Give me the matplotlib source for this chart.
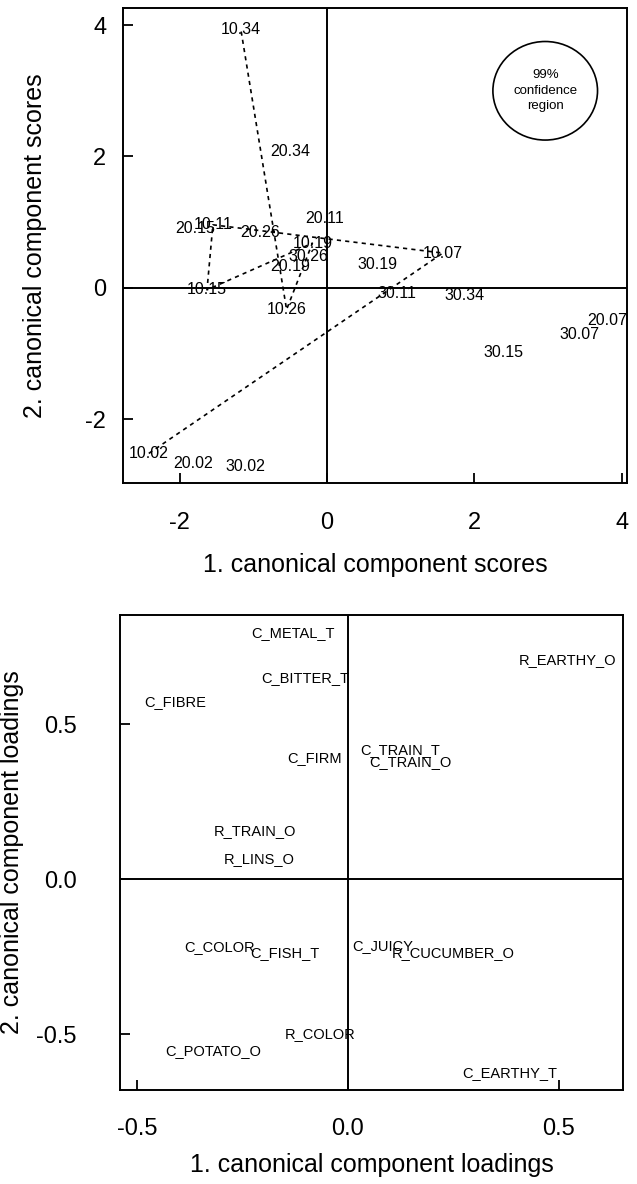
import matplotlib
matplotlib.use("Agg")
import matplotlib.pyplot as plt
from matplotlib.patches import Ellipse

plt.rcParams['font.family'] = ['Liberation Sans', 'DejaVu Sans']

# ---- top panel: canonical component scores ----
score_labels = ["10.02", "10.07", "10.11", "10.15", "10.19", "10.26", "10.34",
                "20.02", "20.07", "20.11", "20.15", "20.19", "20.26", "20.34",
                "30.02", "30.07", "30.11", "30.15", "30.19", "30.26", "30.34"]
score_x = [-2.42, 1.57, -1.55, -1.63, -0.20, -0.55, -1.17,
           -1.82, 3.80, -0.03, -1.79, -0.50, -0.91, -0.50,
           -1.11, 3.43, 0.95, 2.39, 0.69, -0.26, 1.87]
score_y = [-2.52, 0.53, 0.96, -0.03, 0.68, -0.33, 3.93,
           -2.68, -0.49, 1.06, 0.91, 0.32, 0.85, 2.08,
           -2.72, -0.71, -0.09, -0.99, 0.35, 0.47, -0.12]
path_labels = ["10.02", "10.07", "10.11", "10.15", "10.19", "10.26", "10.34"]
score_xticks = [-2, 0, 2, 4]
score_yticks = [-2, 0, 2, 4]

# ---- bottom panel: canonical component loadings ----
load_labels = ["C_METAL_T", "C_BITTER_T", "C_FIBRE", "C_FIRM", "R_TRAIN_O",
               "R_LINS_O", "R_EARTHY_O", "C_TRAIN_T", "C_TRAIN_O", "C_COLOR",
               "C_FISH_T", "R_COLOR", "C_POTATO_O", "C_JUICY", "R_CUCUMBER_O",
               "C_EARTHY_T"]
load_x = [-0.13, -0.10, -0.41, -0.08, -0.22, -0.21, 0.52, 0.123, 0.147, -0.303,
          -0.149, -0.066, -0.318, 0.083, 0.249, 0.384]
load_y = [0.794, 0.648, 0.571, 0.39, 0.155, 0.065, 0.706, 0.416, 0.377, -0.219,
          -0.239, -0.50, -0.555, -0.216, -0.239, -0.626]
load_xticks = [-0.5, 0.0, 0.5]
load_yticks = [-0.5, 0.0, 0.5]

W, H = 637, 1184
fig = plt.figure(figsize=(W / 100, H / 100), dpi=100)

def px_axes(l, t, r, b):
    return fig.add_axes([l / W, 1 - b / H, (r - l) / W, (b - t) / H])

ax1 = px_axes(123, 8, 627, 483)
ax2 = px_axes(120, 615, 623, 1090)

for ax in (ax1, ax2):
    for s in ax.spines.values():
        s.set_linewidth(1.4)
    ax.axhline(0, color='black', lw=1.4)
    ax.axvline(0, color='black', lw=1.4)

# top
ax1.set_xlim(-2.77, 4.07)
ax1.set_ylim(-2.97, 4.26)
pos = {l: (x, y) for l, x, y in zip(score_labels, score_x, score_y)}
px = [pos[l][0] for l in path_labels]
py = [pos[l][1] for l in path_labels]
ax1.plot(px, py, color='black', lw=1.2, linestyle=(0, (2.5, 2.5)))
for l, x, y in zip(score_labels, score_x, score_y):
    ax1.text(x, y, l, ha='center', va='center', fontsize=11.5, color='black')
ax1.add_patch(Ellipse((2.96, 3.0), 1.42, 1.5, fill=False, ec='black', lw=1.2))
ax1.text(2.96, 3.0, "99%\nconfidence\nregion", ha='center', va='center',
         fontsize=9.5, linespacing=1.4)
ax1.set_xticks(score_xticks)
ax1.set_yticks(score_yticks)
ax1.set_xticklabels([str(v) for v in score_xticks])
ax1.set_yticklabels([str(v) for v in score_yticks])
ax1.tick_params(axis='x', direction='in', length=7, width=1.3, pad=21, labelsize=17)
ax1.tick_params(axis='y', direction='in', length=7, width=1.3, pad=12, labelsize=17)
ax1.set_xlabel("1. canonical component scores", fontsize=18)
ax1.set_ylabel("2. canonical component scores", fontsize=18)
ax1.xaxis.set_label_coords(0.5, (483 - 565) / 475)
ax1.xaxis.label.set_va('center')
ax1.yaxis.set_label_coords((35 - 123) / 504, 0.5)
ax1.yaxis.label.set_va('center')

# bottom
ax2.set_xlim(-0.54, 0.652)
ax2.set_ylim(-0.68, 0.852)
for l, x, y in zip(load_labels, load_x, load_y):
    ax2.text(x, y, l, ha='center', va='center', fontsize=10.5, color='black')
ax2.set_xticks(load_xticks)
ax2.set_yticks(load_yticks)
ax2.set_xticklabels([f"{v:.1f}" for v in load_xticks])
ax2.set_yticklabels([f"{v:.1f}" for v in load_yticks])
ax2.tick_params(axis='x', direction='in', length=7, width=1.3, pad=20, labelsize=17)
ax2.tick_params(axis='y', direction='in', length=7, width=1.3, pad=31, labelsize=17)
ax2.set_xlabel("1. canonical component loadings", fontsize=18)
ax2.set_ylabel("2. canonical component loadings", fontsize=18)
ax2.xaxis.set_label_coords(0.5, (1090 - 1165) / 475)
ax2.xaxis.label.set_va('center')
ax2.yaxis.set_label_coords((12 - 120) / 503, 0.5)
ax2.yaxis.label.set_va('center')

fig.savefig("out.png", dpi=100)
